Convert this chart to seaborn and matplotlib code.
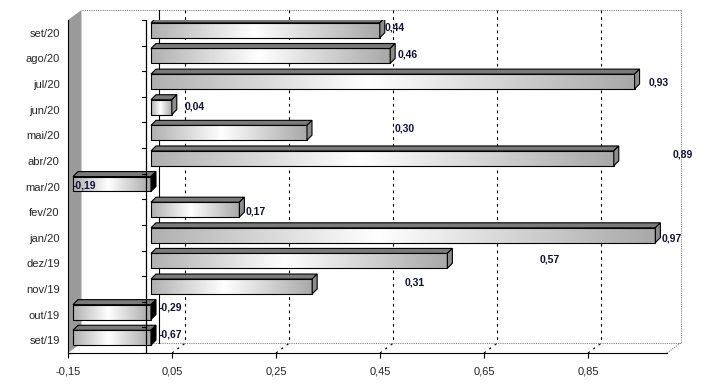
import numpy as np
import pandas as pd
import matplotlib
matplotlib.use('Agg')
import matplotlib.pyplot as plt
from matplotlib.patches import Polygon
from matplotlib.colors import LinearSegmentedColormap
import seaborn as sns

#%% Data
meses = ['set/20', 'ago/20', 'jul/20', 'jun/20', 'mai/20', 'abr/20', 'mar/20',
         'fev/20', 'jan/20', 'dez/19', 'nov/19', 'out/19', 'set/19']
valores = [0.44, 0.46, 0.93, 0.04, 0.30, 0.89, -0.19, 0.17, 0.97, 0.57, 0.31, -0.29, -0.67]
x_ticks = [-0.15, 0.05, 0.25, 0.45, 0.65, 0.85]

# label nudges in px (some labels in the original sit away from the bar end)
label_dx = [5, 7, 14, 13, 88, 59, -78, 6, 6, 92, 92, 8, 8]
label_dy = [5, 4, 2, 3, 7, 6, 1, 1, -1, 4, 6, 7, 6]

#%% Layout
W, H = 702, 385
xmin, xmax = -0.15, 1.002
ax_l, ax_r, ax_t, ax_b = 68, 667, 20, 353  # axes box in px

sns.set_theme(style='white')
plt.rcParams['font.family'] = ['Liberation Sans', 'DejaVu Sans']

fig = plt.figure(figsize=(W / 100, H / 100), dpi=100)
ax = fig.add_axes([ax_l / W, 1 - ax_b / H, (ax_r - ax_l) / W, (ax_b - ax_t) / H])

df = pd.DataFrame({'mes': meses, 'valor': valores})
sns.barplot(data=df, x='valor', y='mes', orient='h', ax=ax, width=0.58,
            color='white', edgecolor='black', linewidth=0.8, zorder=3)
bars = list(ax.patches)

n = len(meses)
px_x = (xmax - xmin) / (ax_r - ax_l)  # data units per pixel
px_y = n / (ax_b - ax_t)

def bx(x):  # back wall offset
    return x + 13.5 * px_x

def by(y):
    return y - 10 * px_y

grey_dot = dict(color='#808080', lw=0.8, ls=(0, (1, 1)), clip_on=False, zorder=1)
ax.plot([bx(xmin), bx(xmax)], [by(-0.5)] * 2, **grey_dot)
ax.plot([bx(xmax)] * 2, [by(-0.5), by(n - 0.5)], **grey_dot)
ax.plot([bx(xmin), bx(xmax)], [by(n - 0.5)] * 2, **grey_dot)
ax.plot([xmax, bx(xmax)], [n - 0.5, by(n - 0.5)], **grey_dot)

for t in x_ticks[1:]:
    ax.plot([bx(t)] * 2, [by(-0.5), by(n - 0.5)], color='black', lw=0.8,
            ls=(0, (2.5, 3.5)), clip_on=False, zorder=1)
    ax.plot([t, bx(t)], [n - 0.5, by(n - 0.5)], color='black', lw=0.8,
            ls=(0, (2, 4)), clip_on=False, zorder=1)
ax.plot([bx(0)] * 2, [by(-0.5), by(n - 0.5)], color='black', lw=0.8, clip_on=False, zorder=1)

# left wall
wall = Polygon([(xmin, n - 0.5), (xmin, -0.5), (bx(xmin), by(-0.5)), (bx(xmin), by(n - 0.5))],
               closed=True, fc='#9a9a9a', ec='none', clip_on=False, zorder=1.5)
ax.add_patch(wall)

# front zero axis with ticks
ax.plot([0, 0], [-0.5, n - 0.5], color='black', lw=0.9, zorder=5)
for b in np.arange(-0.5, n):
    ax.plot([-4 * px_x, 0], [b, b], color='black', lw=0.8, zorder=5)

#%% 3D-ish bars
cmap = LinearSegmentedColormap.from_list('barra', [(0, '#b0b0b0'), (0.45, '#ffffff'), (1, '#a8a8a8')])
grad = np.linspace(0, 1, 256)[None, :]
shift_x = 5 * px_x
shift_y = 2.5 * px_y
dxf = 5 * px_x
dyf = 5 * px_y
for bar, v in zip(bars, valores):
    x0 = min(bar.get_x(), bar.get_x() + bar.get_width()) + shift_x
    x1 = max(bar.get_x(), bar.get_x() + bar.get_width()) + shift_x
    x0 = max(x0, xmin + 5 * px_x)
    y0 = bar.get_y() - shift_y
    h = bar.get_height()
    bar.set_x(x0)
    bar.set_width(x1 - x0)
    bar.set_y(y0)
    bar.set_facecolor('none')
    img = ax.imshow(grad, extent=[x0, x1, y0 + h, y0], aspect='auto', cmap=cmap,
                    zorder=2.5, interpolation='bilinear')
    img.set_clip_path(bar)
    top = Polygon([(x0, y0), (x1, y0), (x1 + dxf, y0 - dyf), (x0 + dxf, y0 - dyf)],
                  closed=True, fc='#7a7a7a', ec='black', lw=0.8, zorder=3)
    side = Polygon([(x1, y0), (x1 + dxf, y0 - dyf), (x1 + dxf, y0 + h - dyf), (x1, y0 + h)],
                   closed=True, fc='#8c8c8c' if v >= 0 else 'black', ec='black', lw=0.8, zorder=3)
    ax.add_patch(top)
    ax.add_patch(side)

for i, v in enumerate(valores):
    end = max(v, 0) + shift_x
    ax.text(end + label_dx[i] * px_x, i - label_dy[i] * px_y, f'{v:.2f}'.replace('.', ','),
            ha='left', va='center', fontsize=7.5, fontweight='bold', color='#10103a', zorder=6)

#%% Axes styling
ax.set_xlim(xmin, xmax)
ax.set_ylim(n - 0.5, -0.5)
ax.set_xticks(x_ticks)
ax.set_xticklabels([f'{t:.2f}'.replace('.', ',') for t in x_ticks])
ax.set_yticks(np.arange(-0.5, n), minor=True)
ax.set_xlabel('')
ax.set_ylabel('')
ax.tick_params(axis='y', which='major', length=0, pad=6, labelsize=8, left=True)
ax.tick_params(axis='y', which='minor', direction='in', length=3, width=0.8, color='black', left=True)
ax.tick_params(axis='x', which='major', direction='out', length=3.5, width=0.8, color='black',
               pad=6, labelsize=8, bottom=True)
for s in ['top', 'right']:
    ax.spines[s].set_visible(False)
for s in ['left', 'bottom']:
    ax.spines[s].set_color('black')
    ax.spines[s].set_linewidth(0.8)
ax.set_facecolor('none')
ax.grid(False)

fig.savefig('out.png', dpi=100)
